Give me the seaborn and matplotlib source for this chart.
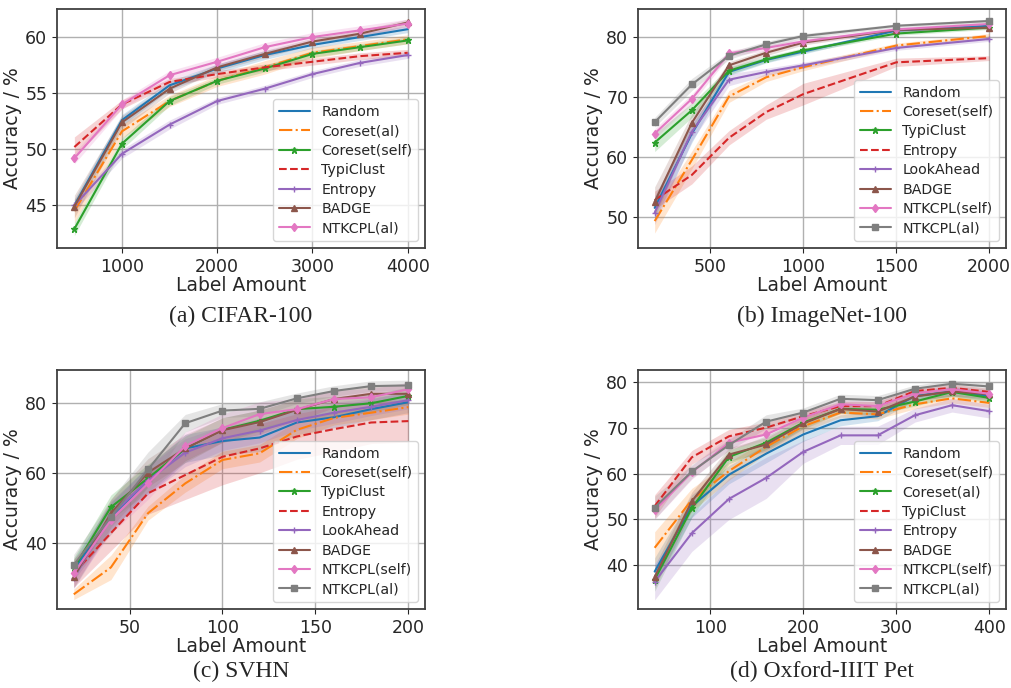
import numpy as np
import seaborn as sns
import matplotlib.pyplot as plt

# ---- data (mean accuracy, std band) ----
# (a) CIFAR-100
a_x = [500, 1000, 1500, 2000, 2500, 3000, 3500, 4000]
a_labels = ["Random", "Coreset(al)", "Coreset(self)", "TypiClust", "Entropy", "BADGE", "NTKCPL(al)"]
a_mean = [
    [45.0, 52.6, 55.7, 57.2, 58.4, 59.3, 60.0, 60.7],
    [44.5, 51.6, 54.3, 56.1, 57.3, 58.6, 59.2, 59.8],
    [42.9, 50.5, 54.3, 56.1, 57.2, 58.5, 59.1, 59.7],
    [50.2, 54.0, 56.0, 56.7, 57.3, 57.8, 58.3, 58.6],
    [45.0, 49.6, 52.2, 54.3, 55.4, 56.7, 57.7, 58.4],
    [44.9, 52.4, 55.4, 57.3, 58.5, 59.6, 60.3, 61.3],
    [49.2, 54.0, 56.6, 57.8, 59.1, 60.0, 60.6, 61.2],
]
a_std = [
    [0.6, 0.5, 0.4, 0.4, 0.4, 0.3, 0.3, 0.3],
    [1.0, 0.6, 0.5, 0.5, 0.6, 0.5, 0.4, 0.4],
    [0.6, 0.5, 0.4, 0.3, 0.3, 0.3, 0.3, 0.3],
    [0.9, 0.4, 0.3, 0.3, 0.3, 0.3, 0.3, 0.3],
    [0.5, 0.4, 0.4, 0.3, 0.3, 0.3, 0.3, 0.3],
    [1.0, 0.6, 0.4, 0.3, 0.3, 0.3, 0.3, 0.3],
    [0.5, 0.4, 0.4, 0.4, 0.4, 0.4, 0.4, 0.4],
]

# (b) ImageNet-100
b_x = [200, 400, 600, 800, 1000, 1500, 2000]
b_labels = ["Random", "Coreset(self)", "TypiClust", "Entropy", "LookAhead", "BADGE", "NTKCPL(self)", "NTKCPL(al)"]
b_mean = [
    [51.5, 63.9, 74.2, 76.2, 77.6, 81.1, 81.9],
    [49.3, 59.5, 70.1, 73.3, 75.0, 78.6, 80.2],
    [62.4, 67.8, 74.4, 76.3, 77.8, 80.6, 81.6],
    [52.8, 57.0, 63.2, 67.5, 70.5, 75.8, 76.5],
    [50.7, 64.2, 72.9, 74.2, 75.3, 78.2, 79.7],
    [52.5, 65.7, 75.3, 77.4, 79.1, 81.2, 81.6],
    [63.9, 69.7, 77.3, 78.2, 79.3, 81.3, 82.2],
    [65.8, 72.1, 76.9, 78.8, 80.2, 81.9, 82.7],
]
b_std = [
    [2.0, 1.5, 0.6, 0.5, 0.4, 0.3, 0.3],
    [2.0, 1.5, 1.0, 0.7, 0.6, 0.4, 0.4],
    [1.5, 1.2, 0.6, 0.5, 0.4, 0.3, 0.3],
    [1.5, 1.5, 1.2, 1.2, 1.8, 0.7, 0.4],
    [2.0, 1.5, 1.0, 0.6, 0.5, 0.4, 0.4],
    [2.5, 1.5, 0.6, 0.5, 0.4, 0.3, 0.3],
    [0.8, 0.8, 0.5, 0.5, 0.4, 0.3, 0.3],
    [0.8, 1.0, 0.6, 0.5, 0.4, 0.3, 0.3],
]

# (c) SVHN
c_x = [20, 40, 60, 80, 100, 120, 140, 160, 180, 200]
c_labels = ["Random", "Coreset(self)", "TypiClust", "Entropy", "LookAhead", "BADGE", "NTKCPL(self)", "NTKCPL(al)"]
c_mean = [
    [32.4, 47.6, 58.0, 67.1, 69.2, 70.2, 74.5, 76.0, 78.3, 80.3],
    [25.4, 33.1, 48.6, 57.1, 63.8, 65.7, 72.4, 75.8, 77.3, 78.9],
    [32.9, 50.3, 58.6, 67.1, 72.4, 75.0, 78.3, 79.0, 80.0, 82.1],
    [31.4, 42.9, 54.3, 59.5, 64.7, 67.1, 70.5, 72.6, 74.5, 74.9],
    [30.0, 48.0, 58.0, 65.9, 70.0, 72.2, 75.2, 77.3, 79.0, 80.9],
    [30.3, 48.6, 60.2, 67.1, 72.3, 74.6, 78.1, 81.2, 82.7, 82.7],
    [31.4, 46.7, 57.1, 67.8, 72.9, 76.9, 78.3, 81.2, 81.7, 84.0],
    [33.8, 47.5, 61.1, 74.3, 77.9, 78.4, 81.4, 83.5, 84.9, 85.1],
]
c_std = [
    [3.0, 4.0, 4.0, 4.0, 4.0, 4.0, 3.5, 3.0, 3.0, 3.0],
    [1.5, 3.5, 2.0, 2.5, 2.5, 2.5, 2.5, 2.0, 2.0, 2.0],
    [3.0, 3.5, 4.0, 3.5, 3.5, 3.0, 3.0, 3.0, 2.5, 2.5],
    [4.0, 5.0, 6.0, 7.0, 8.0, 7.0, 6.5, 6.5, 6.0, 6.0],
    [3.0, 4.0, 4.0, 4.0, 3.5, 3.5, 3.0, 3.0, 2.5, 2.5],
    [3.0, 4.0, 4.0, 4.0, 3.5, 3.5, 3.0, 2.5, 2.5, 2.5],
    [3.0, 4.0, 4.5, 4.0, 4.0, 3.5, 3.0, 2.5, 2.5, 2.0],
    [3.0, 5.0, 5.0, 2.5, 2.0, 2.0, 1.5, 1.5, 1.5, 1.5],
]

# (d) Oxford-IIIT Pet
d_x = [40, 80, 120, 160, 200, 240, 280, 320, 360, 400]
d_labels = ["Random", "Coreset(self)", "Coreset(al)", "TypiClust", "Entropy", "BADGE", "NTKCPL(self)", "NTKCPL(al)"]
d_mean = [
    [38.6, 52.9, 59.8, 64.4, 68.6, 71.7, 72.6, 77.0, 78.0, 77.0],
    [43.8, 54.3, 60.6, 65.9, 70.4, 73.4, 73.0, 75.2, 76.5, 75.5],
    [36.8, 52.5, 63.7, 66.8, 71.2, 74.2, 74.0, 75.8, 77.9, 76.6],
    [52.9, 63.6, 68.2, 70.1, 72.6, 74.8, 74.8, 78.1, 78.8, 77.9],
    [36.4, 47.0, 54.5, 59.1, 64.8, 68.4, 68.4, 72.8, 75.0, 73.7],
    [37.4, 54.0, 64.2, 66.4, 71.0, 74.2, 73.6, 76.9, 78.0, 77.4],
    [52.0, 60.3, 66.8, 68.6, 72.3, 75.2, 74.8, 77.6, 78.5, 77.5],
    [52.6, 60.5, 66.3, 71.4, 73.4, 76.4, 76.1, 78.6, 79.7, 79.1],
]
d_std = [
    [3.0, 2.5, 2.0, 2.0, 1.5, 1.2, 1.0, 1.0, 1.0, 1.0],
    [3.5, 2.5, 2.0, 1.5, 1.2, 1.0, 1.0, 1.0, 1.0, 1.0],
    [2.5, 2.0, 1.5, 1.5, 1.2, 1.0, 1.0, 1.0, 1.0, 1.0],
    [2.5, 1.5, 1.5, 1.2, 1.0, 1.0, 1.0, 0.8, 0.8, 0.8],
    [4.0, 4.0, 4.5, 4.5, 2.5, 2.0, 2.0, 1.5, 1.5, 1.5],
    [2.5, 2.0, 1.5, 1.5, 1.2, 1.0, 1.0, 1.0, 1.0, 1.0],
    [2.0, 1.5, 1.5, 1.2, 1.0, 1.0, 1.0, 0.8, 0.8, 0.8],
    [2.5, 1.5, 1.2, 1.5, 1.0, 1.0, 1.0, 0.8, 0.8, 0.8],
]

# ---- style ----
sns.set_style("ticks")
plt.rcParams['font.family'] = ['DejaVu Sans']

colors = sns.color_palette("tab10")
styles = ["-", "-.", "-", "--", "-", "-", "-", "-"]
markers = [None, None, "*", None, "+", "^", "d", "s"]

fig = plt.figure(figsize=(10.11, 6.88), dpi=100)
ax_pos = [
    [0.0564, 0.6395, 0.364, 0.3474],
    [0.631, 0.6395, 0.364, 0.3474],
    [0.0564, 0.1148, 0.364, 0.3474],
    [0.631, 0.1148, 0.364, 0.3474],
]
panels = [
    (a_x, a_labels, a_mean, a_std, (318, 4182), (41.2, 62.5), [1000, 2000, 3000, 4000], [45, 50, 55, 60]),
    (b_x, b_labels, b_mean, b_std, (110, 2090), (44.8, 84.7), [500, 1000, 1500, 2000], [50, 60, 70, 80]),
    (c_x, c_labels, c_mean, c_std, (11, 209), (21.2, 89.5), [50, 100, 150, 200], [40, 60, 80]),
    (d_x, d_labels, d_mean, d_std, (22, 418), (30.4, 82.7), [100, 200, 300, 400], [40, 50, 60, 70, 80]),
]
captions = ["(a) CIFAR-100", "(b) ImageNet-100", "(c) SVHN", "(d) Oxford-IIIT Pet"]
cap_y = [1 - 316 / 688, 1 - 316 / 688, 1 - 671 / 688, 1 - 671 / 688]

for k, (xs, labels, means, stds, xl, yl, xt, yt) in enumerate(panels):
    ax = fig.add_axes(ax_pos[k])
    for i, lab in enumerate(labels):
        m = np.array(means[i])
        s = np.array(stds[i])
        ax.fill_between(xs, m - s, m + s, color=colors[i], alpha=0.2, linewidth=0)
        sns.lineplot(x=xs, y=m, ax=ax, color=colors[i], linestyle=styles[i],
                     marker=markers[i], markersize=4.5, markeredgewidth=1.0,
                     markeredgecolor=colors[i], linewidth=1.5, label=lab, errorbar=None)
    ax.set_xlim(*xl)
    ax.set_ylim(*yl)
    ax.set_xticks(xt)
    ax.set_yticks(yt)
    ax.grid(True, color="#b0b0b0", linewidth=1.0)
    ax.tick_params(labelsize=12.5, length=3.5, width=0.8)
    for sp in ax.spines.values():
        sp.set_linewidth(1.3)
        sp.set_color("#404040")
    ax.set_xlabel("Label Amount", fontsize=13.5, labelpad=0)
    ax.set_ylabel("Accuracy / %", fontsize=13.5, labelpad=2)
    ax.legend(loc="lower right", fontsize=10.2, labelspacing=0.38, handlelength=2.2)
    fig.text(ax_pos[k][0] + ax_pos[k][2] / 2, cap_y[k], captions[k],
             ha="center", va="center", fontsize=17, family="Liberation Serif")

fig.savefig("out.png", dpi=100)
